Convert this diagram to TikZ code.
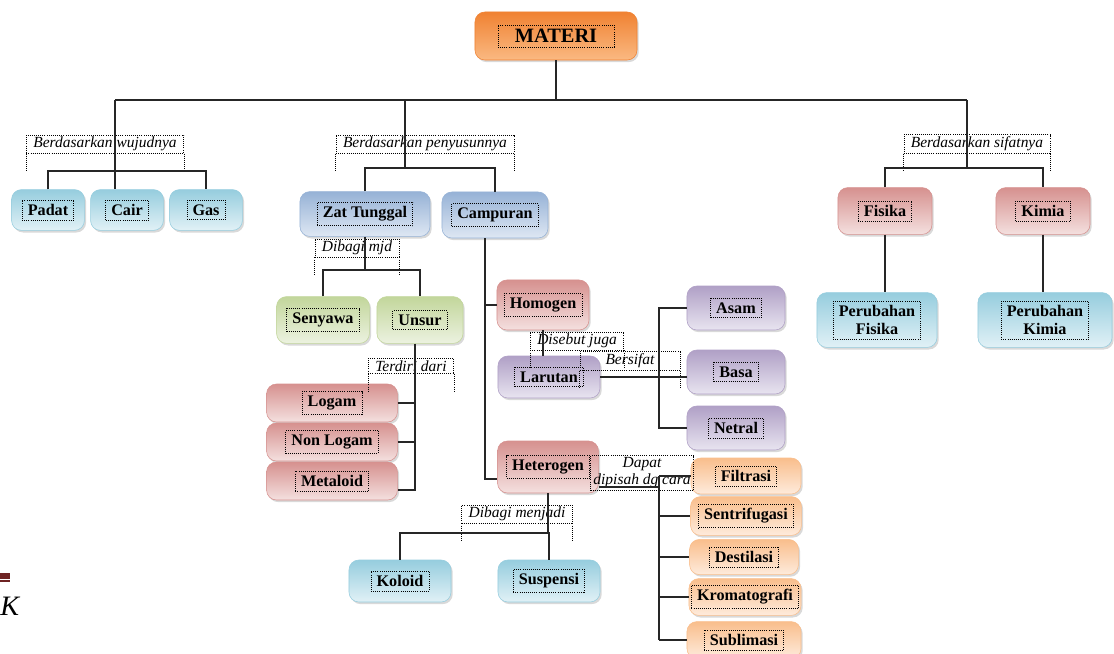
\documentclass[tikz,border=0pt]{standalone}
\usepackage{fontspec}
\setmainfont{Liberation Serif}
\usepackage{xcolor}
\usetikzlibrary{shadows}
\definecolor{orngD}{RGB}{240,130,50}
\definecolor{orngL}{RGB}{250,185,130}
\definecolor{aquaD}{RGB}{150,205,222}
\definecolor{aquaL}{RGB}{225,241,246}
\definecolor{steelD}{RGB}{150,178,214}
\definecolor{steelL}{RGB}{222,231,243}
\definecolor{limeD}{RGB}{194,214,155}
\definecolor{limeL}{RGB}{236,242,224}
\definecolor{roseD}{RGB}{214,145,143}
\definecolor{roseL}{RGB}{244,224,223}
\definecolor{lilacD}{RGB}{176,160,198}
\definecolor{lilacL}{RGB}{232,228,240}
\definecolor{peachD}{RGB}{249,190,140}
\definecolor{peachL}{RGB}{254,235,220}
\definecolor{pagered}{RGB}{110,35,35}

\begin{document}
\begin{tikzpicture}[x=0.025cm, y=-0.025cm,
  box/.style={rounded corners=7pt, top color=#1D, bottom color=#1L, draw=#1D, inner sep=0pt,
    drop shadow={opacity=0.3, shadow xshift=1.2pt, shadow yshift=-1.5pt}},
  tfr/.style={draw=black, densely dotted, line width=0.5pt, inner xsep=4pt, inner ysep=3pt,
    align=center, font=\bfseries\fontsize{11.5}{13}\selectfont},
  txt/.style={label={[tfr]center:{#1}}},
  lbl/.style={draw, densely dotted, line width=0.5pt, inner xsep=5pt, inner ysep=1.5pt, align=center,
    font=\itshape\fontsize{11}{12}\selectfont},
  lblx/.style={lbl, append after command={(\tikzlastnode.south west) edge[densely dotted, line width=0.5pt] ++(0,18)
    (\tikzlastnode.south east) edge[densely dotted, line width=0.5pt] ++(0,18)}},
  conn/.style={draw=black!85, line width=0.9pt}]
\useasboundingbox (0,0) rectangle (1114,653);

% boxes
\node[box=orng, minimum width=4.05cm, minimum height=1.2cm,
  label={[tfr, inner xsep=12pt, font=\bfseries\fontsize{14.5}{16}\selectfont]center:MATERI}] (materi) at (556,36) {};
\node[box=aqua, minimum width=1.82cm, minimum height=1.02cm, txt=Padat] (padat) at (48,210) {};
\node[box=aqua, minimum width=1.82cm, minimum height=1.02cm, txt=Cair] (cair) at (127,210) {};
\node[box=aqua, minimum width=1.82cm, minimum height=1.02cm, txt=Gas] (gas) at (206,210) {};
\node[box=steel, minimum width=3.25cm, minimum height=1.12cm, txt=Zat Tunggal] (zat) at (365,214) {};
\node[box=steel, minimum width=2.65cm, minimum height=1.15cm, txt=Campuran] (camp) at (495,215) {};
\node[box=lime, minimum width=2.32cm, minimum height=1.17cm, txt=Senyawa] (senyawa) at (323,320) {};
\node[box=lime, minimum width=2.15cm, minimum height=1.17cm, txt=Unsur] (unsur) at (420,320) {};
\node[box=rose, minimum width=3.27cm, minimum height=0.95cm, txt=Logam] (logam) at (332,403) {};
\node[box=rose, minimum width=3.27cm, minimum height=0.95cm, txt=Non Logam] (nonlogam) at (332,442) {};
\node[box=rose, minimum width=3.27cm, minimum height=0.95cm, txt=Metaloid] (metaloid) at (332,481) {};
\node[box=rose, minimum width=2.3cm, minimum height=1.25cm, txt=Homogen] (homo) at (543,305) {};
\node[box=lilac, minimum width=2.55cm, minimum height=1.05cm, txt=Larutan] (laru) at (549,377) {};
\node[box=rose, minimum width=2.52cm, minimum height=1.3cm, txt=Heterogen] (hetero) at (548,467) {};
\node[box=lilac, minimum width=2.45cm, minimum height=1.1cm, txt=Asam] (asam) at (736,308) {};
\node[box=lilac, minimum width=2.45cm, minimum height=1.1cm, txt=Basa] (basa) at (736,372) {};
\node[box=lilac, minimum width=2.45cm, minimum height=1.1cm, txt=Netral] (netral) at (736,428) {};
\node[box=peach, minimum width=2.75cm, minimum height=0.9cm, txt=Filtrasi] (filtrasi) at (746,476) {};
\node[box=peach, minimum width=2.77cm, minimum height=0.97cm, txt=Sentrifugasi] (sentri) at (746,516) {};
\node[box=peach, minimum width=2.72cm, minimum height=0.88cm, txt=Destilasi] (destilasi) at (744,557) {};
\node[box=peach, minimum width=2.8cm, minimum height=0.92cm, txt=Kromatografi] (kromato) at (745,597) {};
\node[box=peach, minimum width=2.85cm, minimum height=0.92cm, txt=Sublimasi] (sublimasi) at (744,640) {};
\node[box=aqua, minimum width=2.55cm, minimum height=1.05cm, txt=Koloid] (koloid) at (400,581) {};
\node[box=aqua, minimum width=2.55cm, minimum height=1.05cm, txt=Suspensi] (suspensi) at (549,581) {};
\node[box=rose, minimum width=2.35cm, minimum height=1.17cm, txt=Fisika] (fisika) at (885,211) {};
\node[box=rose, minimum width=2.35cm, minimum height=1.17cm, txt=Kimia] (kimia) at (1043,211) {};
\node[box=aqua, minimum width=3.0cm, minimum height=1.37cm, txt=Perubahan\\Fisika] (pfis) at (877,320) {};
\node[box=aqua, minimum width=3.35cm, minimum height=1.37cm, txt=Perubahan\\Kimia] (pkim) at (1045,320) {};

% labels
\node[lblx] (wujud) at (105,144) {Berdasarkan wujudnya};
\node[lblx] (susun) at (425,144) {Berdasarkan penyusunnya};
\node[lblx] (sifat) at (977,144) {Berdasarkan sifatnya};
\node[lblx] (mjd) at (357,248) {Dibagi mjd};
\node[lblx] (terdiri) at (411,366) {Terdiri dari};
\node[lblx] (disebut) at (577,341) {Disebut juga};
\node[lblx, minimum width=2.5cm] (bersifat) at (630,361) {Bersifat};
\node[lbl, inner xsep=2pt] (dapat) at (642,473) {Dapat\\dipisah dg cara};
\node[lblx] (menjadi) at (517,514) {Dibagi menjadi};

% junctions
\coordinate (j0) at (556,100);
\coordinate (jw) at (115,171);
\coordinate (jp) at (405,168);
\coordinate (js) at (967,168);
\coordinate (jz) at (365,270);
\coordinate (ju) at (415,490);
\coordinate (jc) at (485,479);
\coordinate (jl) at (659,373);
\coordinate (jd) at (659,487);
\coordinate (jm) at (548,533);

% connectors
\draw[conn] (materi) -- (j0);
\draw[conn] (jw |- j0) -- (js |- j0);
\draw[conn] (jw |- j0) -- (jw |- cair.north);
\draw[conn] (padat.north) |- (jw) -| (gas.north);
\draw[conn] (jp |- j0) -- (jp);
\draw[conn] (zat.north) |- (jp) -| (camp.north);
\draw[conn] (js |- j0) -- (js);
\draw[conn] (fisika.north) |- (js) -| (kimia.north);
\draw[conn] (fisika.south) -- (fisika.south |- pfis.north);
\draw[conn] (kimia.south) -- (kimia.south |- pkim.north);
\draw[conn] (zat) -- (jz);
\draw[conn] (senyawa.north) |- (jz) -| (unsur.north);
\draw[conn] (unsur.south -| ju) -- (ju) -- (ju -| metaloid.east);
\draw[conn] (logam.east) -- (logam.east -| ju);
\draw[conn] (nonlogam.east) -- (nonlogam.east -| ju);
\draw[conn] (camp.south -| jc) -- (jc) -- (jc -| hetero.west);
\draw[conn] (homo.west -| jc) -- (homo.west);
\draw[conn] (homo.south) -- (homo.south |- laru.north);
\draw[conn] (laru.east) -- (laru.east -| basa.west);
\draw[conn] (asam.west) -| (jl |- netral.west) -- (netral.west);
\draw[conn] (hetero.east |- jd) -- (jd);
\draw[conn] (filtrasi.west -| jd) -- (sublimasi.west -| jd);
\foreach \n in {filtrasi,sentri,destilasi,kromato,sublimasi}
  \draw[conn] (\n.west -| jd) -- (\n.west);
\draw[conn] (hetero) -- (jm);
\draw[conn] (koloid.north) |- (jm) -| (suspensi.north);

% page remains at the left edge
\fill[pagered] (0,573) rectangle (10,579);
\fill[pagered] (0,580) rectangle (10,582);
\node[anchor=base west, inner sep=0pt, font=\itshape\fontsize{20}{20}\selectfont] (pk) at (0,615) {K};
\end{tikzpicture}
\end{document}
